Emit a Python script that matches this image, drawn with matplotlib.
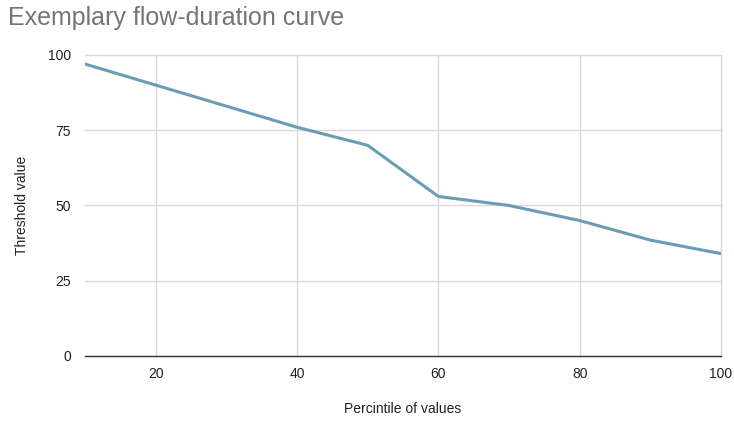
import matplotlib
matplotlib.use("Agg")
import matplotlib.pyplot as plt

percentiles = [10, 20, 30, 40, 50, 60, 70, 80, 90, 100]
thresholds = [97, 90, 83, 76, 70, 53, 50, 45, 38.5, 34]
x_ticks = [20, 40, 60, 80, 100]
y_ticks = [0, 25, 50, 75, 100]

plt.rcParams['font.family'] = ['Liberation Sans', 'DejaVu Sans']

fig = plt.figure(figsize=(7.34, 4.25), dpi=100)
ax = fig.add_axes([0.1158, 0.1624, 0.8665, 0.7082])

ax.plot(percentiles, thresholds, color='#6a9cb6', linewidth=2.2, solid_joinstyle='round', zorder=3)
ax.set_xlim(10, 100)
ax.set_ylim(0, 100)
ax.set_xticks(x_ticks)
ax.set_yticks(y_ticks)
ax.grid(True, color='#d9d9d9', linewidth=1)
for gl in ax.get_xgridlines() + ax.get_ygridlines():
    gl.set_clip_on(False)
ax.set_axisbelow(True)
for s in ['top', 'right', 'left']:
    ax.spines[s].set_visible(False)
ax.spines['bottom'].set_color('#333333')
ax.spines['bottom'].set_linewidth(1)
ax.spines['bottom'].set_zorder(2.5)
ax.tick_params(axis='both', length=0, labelsize=10, colors='#222222', pad=8)
ax.tick_params(axis='y', pad=10)

ax.set_xlabel('Percintile of values', fontsize=10, color='#222222', labelpad=15)
ax.set_ylabel('Threshold value', fontsize=10, color='#222222', labelpad=14)

fig.text(0.011, 0.957, 'Exemplary flow-duration curve', fontsize=18, color='#757575', va='center', ha='left')

fig.savefig('out.png', dpi=100, facecolor='white')
